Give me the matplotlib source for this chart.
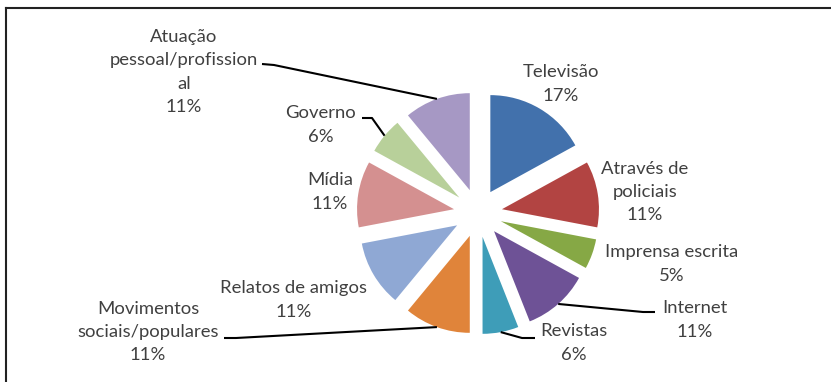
import numpy as np
import matplotlib.pyplot as plt
from matplotlib.lines import Line2D

plt.rcParams['font.family'] = ['Lato', 'DejaVu Sans']

labels = ['Televisão', 'Através de\npoliciais', 'Imprensa escrita', 'Internet',
          'Revistas', 'Movimentos\nsociais/populares', 'Relatos de amigos',
          'Mídia', 'Governo', 'Atuação\npessoal/profission\nal']
values = [17, 11, 5, 11, 6, 11, 11, 11, 6, 11]
colors = ['#4271AC', '#B24442', '#86A845', '#6E5296', '#3E9DB8', '#E0843A',
          '#8FA8D4', '#D49090', '#B8D09A', '#A698C4']

# label centres (pixels, y up) and leader lines: elbow, text end
label_pos = [(561, 298), (645, 190), (672, 118), (695, 62), (574, 39),
             (148, 50), (294, 82), (330, 190), (321, 257), (184, 310)]
leaders = {3: [(643, 70), (655, 70)],
           4: [(522, 44), (535, 44)],
           5: [(236, 44), (224, 44)],
           8: [(372, 264), (362, 264)],
           9: [(274, 317), (262, 318)]}

radius = 97
fig = plt.figure(figsize=(8.31, 3.82), dpi=100)
ax = fig.add_axes([0, 0, 1, 1])

# explode is in data units, so scale by the radius
wedges, _ = ax.pie(values, colors=colors, startangle=90, counterclock=False,
                   center=(478, 169), radius=radius,
                   explode=[0.25 * radius] * len(values),
                   wedgeprops=dict(linewidth=0))
ax.set_xlim(0, 831)
ax.set_ylim(0, 382)
ax.set_aspect('equal')
ax.axis('off')

for i, (name, v) in enumerate(zip(labels, values)):
    x, y = label_pos[i]
    ax.text(x, y, f'{name}\n{v}%', ha='center', va='center', fontsize=13.3,
            color='#404040', linespacing=1.55)
    if i in leaders:
        w = wedges[i]
        mid = np.deg2rad((w.theta1 + w.theta2) / 2)
        anchor = (w.center[0] + w.r * np.cos(mid), w.center[1] + w.r * np.sin(mid))
        pts = [anchor] + leaders[i]
        ax.plot([p[0] for p in pts], [p[1] for p in pts], color='black', lw=1.5,
                solid_capstyle='butt')

# chart border (top and left edges)
fig.add_artist(Line2D([0.007, 1.0], [0.978, 0.978], color='#222222', lw=1.5))
fig.add_artist(Line2D([0.007, 0.007], [0.0, 0.978], color='#222222', lw=1.5))

fig.savefig('out.png', dpi=100)
